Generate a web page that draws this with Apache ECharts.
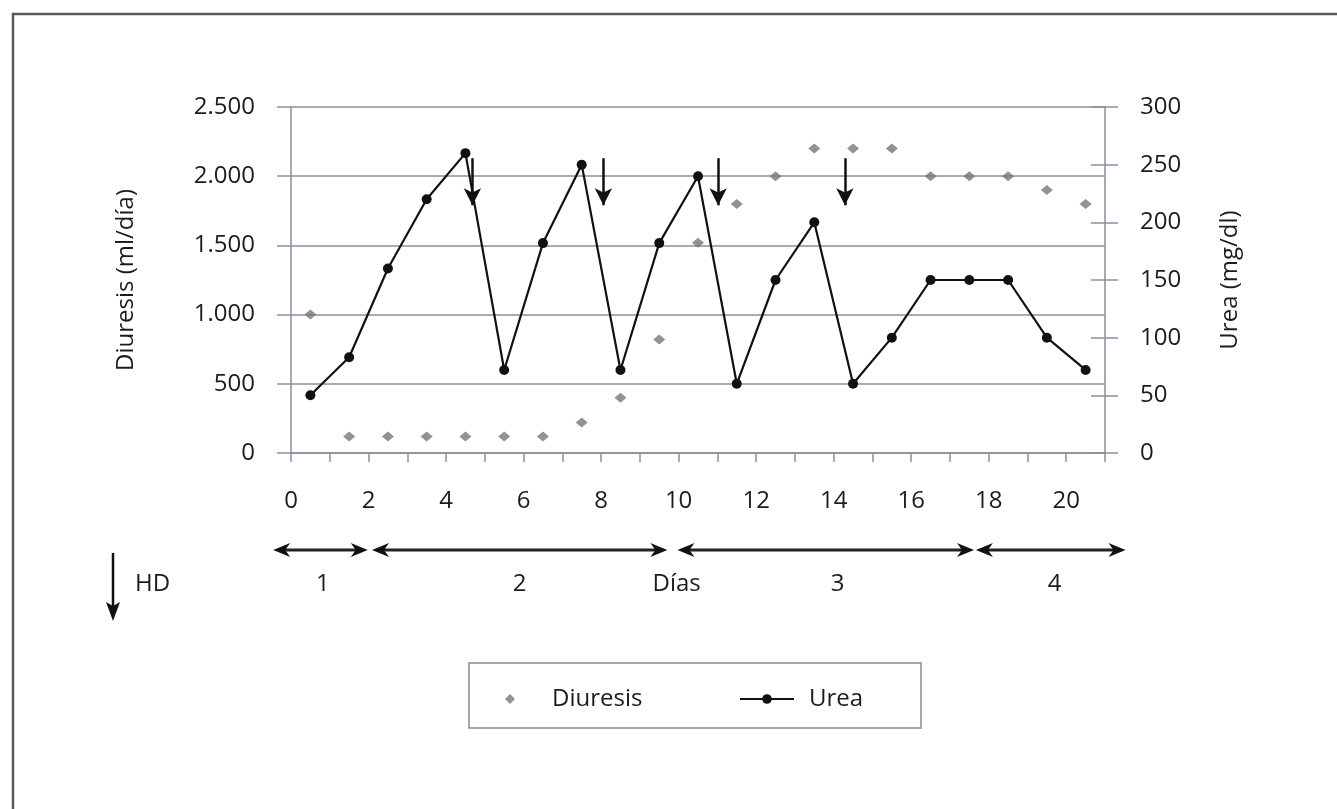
<!DOCTYPE html>
<html><head><meta charset="utf-8">
<script src="https://cdn.jsdelivr.net/npm/echarts@6/dist/echarts.min.js"></script>
<style>html,body{margin:0;padding:0;background:#fff}#c{width:1337px;height:809px}</style>
</head><body><div id="c"></div>
<script>
// ---- data ----
const days = [0.5,1.5,2.5,3.5,4.5,5.5,6.5,7.5,8.5,9.5,10.5,11.5,12.5,13.5,14.5,15.5,16.5,17.5,18.5,19.5,20.5];
const diuresis = [1000,120,120,120,120,120,120,220,400,820,1520,1800,2000,2200,2200,2200,2000,2000,2000,1900,1800];
const urea = [50,83,160,220,260,72,182,250,72,182,240,60,150,200,60,100,150,150,150,100,72];
const hdDays = [4.68, 8.06, 11.02, 14.29];
const hdTop = 2130, hdTip = 1790;
const phaseLabels = ['1','2','3','4'];
const phaseStart = [-0.46, 2.09, 9.97, 17.67];
const phaseEnd = [1.98, 9.71, 17.62, 21.53];
const phaseLabelDay = [0.82, 5.9, 14.1, 19.7];
const daysLabel = 'Días';
const daysLabelDay = 9.95;

const FONT = 'Open Sans';
const FS = 24;
const TXT = '#1c1c1c';
const AX = '#8a8ea0';

const chart = echarts.init(document.getElementById('c'), null, {renderer:'canvas'});
const fmtThousands = v => String(v).replace(/\B(?=(\d{3})+(?!\d))/g, '.');

chart.setOption({
  animation: false,
  backgroundColor: '#fff',
  textStyle: {fontFamily: FONT, color: TXT},
  grid: {left: 291, right: 232, top: 107, bottom: 356, containLabel: false},
  xAxis: {
    type: 'value', min: 0, max: 21, interval: 1,
    axisLine: {show: true, lineStyle: {color: AX, width: 1.5}},
    axisTick: {show: true, inside: false, length: 9, lineStyle: {color: AX, width: 1.5}},
    splitLine: {show: false},
    axisLabel: {
      margin: 36, fontSize: FS, color: TXT, fontFamily: FONT,
      formatter: v => (v % 2 === 0 && v <= 20) ? String(v) : ''
    }
  },
  yAxis: [
    {
      type: 'value', position: 'left', min: 0, max: 2500, interval: 500,
      name: 'Diuresis (ml/día)', nameLocation: 'middle', nameRotate: 90, nameGap: 153,
      nameTextStyle: {fontSize: FS, color: TXT, fontFamily: FONT},
      axisLine: {show: true, lineStyle: {color: AX, width: 1.5}},
      axisTick: {show: true, length: 14, lineStyle: {color: AX, width: 1.5}},
      splitLine: {show: true, lineStyle: {color: AX, width: 1.5}},
      axisLabel: {margin: 36, fontSize: FS, color: TXT, fontFamily: FONT, formatter: fmtThousands}
    },
    {
      type: 'value', position: 'right', min: 0, max: 300, interval: 50,
      name: 'Urea (mg/dl)', nameLocation: 'middle', nameRotate: 90, nameGap: 113,
      nameTextStyle: {fontSize: FS, color: TXT, fontFamily: FONT},
      axisLine: {show: true, lineStyle: {color: AX, width: 1.5}},
      axisTick: {show: true, length: 13, lineStyle: {color: AX, width: 1.5}},
      splitLine: {show: false},
      axisLabel: {margin: 35, fontSize: FS, color: TXT, fontFamily: FONT}
    },
    {
      type: 'value', position: 'right', min: 0, max: 300, interval: 50,
      axisLine: {show: false},
      axisTick: {show: true, inside: true, length: 14, lineStyle: {color: AX, width: 1.5}},
      splitLine: {show: false},
      axisLabel: {show: false}
    }
  ],
  legend: [
    {
      data: ['Diuresis'], left: 505, top: 687, padding: 0,
      itemWidth: 10, itemHeight: 10, icon: 'diamond',
      textStyle: {fontSize: FS, color: TXT, fontFamily: FONT, padding: [0,0,0,32]}
    },
    {
      data: ['Urea'], left: 739, top: 687, padding: 0,
      itemWidth: 54, itemHeight: 12,
      textStyle: {fontSize: FS, color: TXT, fontFamily: FONT, padding: [0,0,0,10]}
    }
  ],
  series: [
    {
      name: 'Diuresis', type: 'scatter', yAxisIndex: 0,
      symbol: 'diamond', symbolSize: [12, 10],
      itemStyle: {color: '#777'},
      data: days.map((d, i) => [d, diuresis[i]]),
      markLine: {
        silent: true, animation: false,
        symbol: ['none', 'arrow'], symbolSize: [13, 17],
        label: {show: false},
        lineStyle: {color: '#111', width: 2.5, type: 'solid'},
        data: hdDays.map(d => [{coord: [d, hdTop]}, {coord: [d, hdTip]}])
      },
      z: 2
    },
    {
      name: 'Urea', type: 'line', yAxisIndex: 1,
      symbol: 'circle', symbolSize: 10,
      itemStyle: {color: '#111'},
      lineStyle: {color: '#111', width: 2.2},
      data: days.map((d, i) => [d, urea[i]]),
      z: 3
    }
  ]
});

// ---- decorations placed through the axis scale ----
function px(day) { return chart.convertToPixel({xAxisIndex: 0, yAxisIndex: 0}, [day, 0])[0]; }
const TL_Y = 550, LAB_Y = 584;
const g = [];
function head(xTip, y, dir) { // dir: -1 left, +1 right
  const L = 17, W = 7, N = 12;
  return {type: 'polygon', shape: {points: [[xTip, y], [xTip - dir*L, y - W], [xTip - dir*N, y], [xTip - dir*L, y + W]]},
          style: {fill: '#111'}, z: 10};
}
phaseLabels.forEach((lab, i) => {
  const a = px(phaseStart[i]), b = px(phaseEnd[i]);
  g.push({type: 'line', shape: {x1: a + 10, y1: TL_Y, x2: b - 10, y2: TL_Y}, style: {stroke: '#222', lineWidth: 3}, z: 10});
  g.push(head(a, TL_Y, -1));
  g.push(head(b, TL_Y, 1));
  g.push({type: 'text', x: px(phaseLabelDay[i]), y: LAB_Y,
          style: {text: lab, font: FS + 'px "' + FONT + '"', fill: TXT, align: 'center', verticalAlign: 'middle'}, z: 10});
});
g.push({type: 'text', x: px(daysLabelDay), y: LAB_Y,
        style: {text: daysLabel, font: FS + 'px "' + FONT + '"', fill: TXT, align: 'center', verticalAlign: 'middle'}, z: 10});
// HD key arrow
g.push({type: 'line', shape: {x1: 113, y1: 553, x2: 113, y2: 608}, style: {stroke: '#111', lineWidth: 2.5}, z: 10});
g.push({type: 'polygon', shape: {points: [[113, 621], [106, 602], [113, 606], [120, 602]]}, style: {fill: '#111'}, z: 10});
g.push({type: 'text', x: 135, y: 584, style: {text: 'HD', font: FS + 'px "' + FONT + '"', fill: TXT, align: 'left', verticalAlign: 'middle'}, z: 10});
// legend box
g.push({type: 'rect', shape: {x: 469, y: 663, width: 452, height: 65}, style: {fill: 'none', stroke: '#8a8a8a', lineWidth: 1.5}, z: 1});
// outer frame
g.push({type: 'line', shape: {x1: 13, y1: 13, x2: 13, y2: 809}, style: {stroke: '#5a5a5a', lineWidth: 2.5}, z: 10});
g.push({type: 'line', shape: {x1: 12, y1: 14, x2: 1337, y2: 14}, style: {stroke: '#5a5a5a', lineWidth: 2.5}, z: 10});
chart.setOption({graphic: g});
</script>
</body></html>
